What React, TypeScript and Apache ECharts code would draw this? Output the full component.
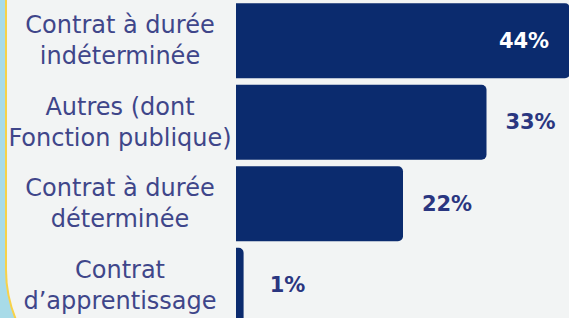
import React, { useEffect, useRef } from "react";
import * as echarts from "echarts";

const categories = [
  "Contrat à durée\nindéterminée",
  "Autres (dont\nFonction publique)",
  "Contrat à durée\ndéterminée",
  "Contrat\nd’apprentissage",
];
const values = [44, 33, 22, 1];
const axisMax = 44;

const BAR = "#0b2b6e";
const TEXT = "#3f468a";
const VALUE_TEXT = "#2a3680";

export default function App() {
  const ref = useRef<HTMLDivElement>(null);

  useEffect(() => {
    if (!ref.current) return;
    const chart = echarts.init(ref.current, undefined, { renderer: "svg" });
    chart.setOption({
      animation: false,
      backgroundColor: "transparent",
      grid: { left: 236, right: 0, top: 0, bottom: 0, containLabel: false },
      xAxis: {
        type: "value",
        min: 0,
        max: axisMax,
        show: false,
      },
      yAxis: {
        type: "category",
        inverse: true,
        data: categories,
        axisLine: { show: false },
        axisTick: { show: false },
        splitLine: { show: false },
        axisLabel: {
          align: "center",
          margin: 116,
          fontFamily: "DejaVu Sans",
          fontSize: 24,
          lineHeight: 31,
          color: TEXT,
        },
      },
      series: [
        {
          type: "bar",
          barCategoryGap: "8%",
          data: values.map((v) => {
            const inside = v === axisMax;
            return {
              value: v,
              label: inside
                ? {
                    position: "insideRight",
                    distance: 46,
                    align: "center",
                    color: "#ffffff",
                  }
                : {
                    position: "right",
                    distance: 44,
                    align: "center",
                    color: VALUE_TEXT,
                  },
            };
          }),
          itemStyle: { color: BAR, borderRadius: [0, 5, 5, 0] },
          label: {
            show: true,
            formatter: "{c}%",
            fontFamily: "DejaVu Sans",
            fontWeight: "bold",
            fontSize: 21,
          },
        },
      ],
    });
    return () => chart.dispose();
  }, []);

  return (
    <div
      style={{
        position: "fixed",
        left: 0,
        top: 0,
        width: 569,
        height: 318,
        overflow: "hidden",
        background: "#a8dbe8",
      }}
    >
      <div
        style={{
          position: "absolute",
          left: 5,
          top: -10,
          width: 700,
          height: 410,
          boxSizing: "border-box",
          background: "#f2f4f4",
          borderLeft: "2px solid #f8d248",
          borderBottom: "2px solid #f8d248",
          borderBottomLeftRadius: 130,
        }}
      />
      <div
        ref={ref}
        style={{ position: "absolute", left: 0, top: 0, width: 570, height: 326 }}
      />
    </div>
  );
}
